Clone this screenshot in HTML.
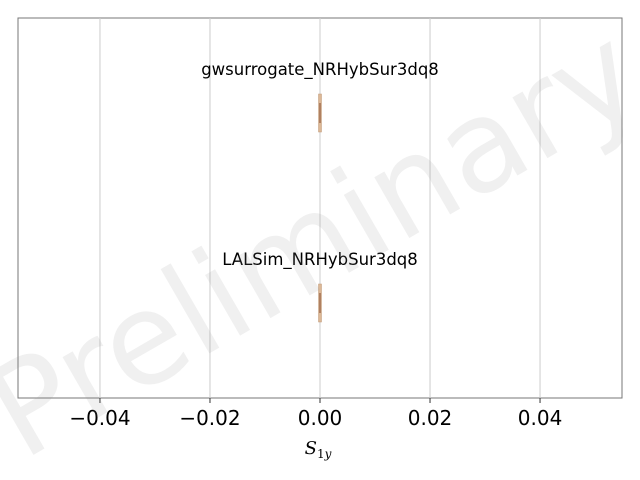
<!DOCTYPE html>
<html><head><meta charset="utf-8"><style>
body{margin:0;background:#fff;}
svg{display:block;font-family:"DejaVu Sans","Liberation Sans",sans-serif;}
</style></head><body>
<svg id="chart" width="640" height="480">
<rect x="18" y="18" width="604" height="380" fill="#fff" stroke="#777" stroke-width="1"/>
<g id="grid"></g>
<g id="marks"></g>
<g id="ticks"></g>
<text x="318" y="454" text-anchor="middle" font-family="DejaVu Serif, serif" font-style="italic" font-size="18">S<tspan font-style="normal" font-size="12" dy="4">1</tspan><tspan font-size="12">y</tspan></text>
<text transform="translate(318,250) rotate(-30)" text-anchor="middle" dominant-baseline="middle" font-size="128" fill="#888" fill-opacity="0.13">Preliminary</text>
</svg>
<script>
const ticks=[-0.04,-0.02,0.00,0.02,0.04];
const tickLabels=["\u22120.04","\u22120.02","0.00","0.02","0.04"];
const categories=["gwsurrogate_NRHybSur3dq8","LALSim_NRHybSur3dq8"];
const centers=[0,0];
const lows=[-0.0002,-0.0002];
const highs=[0.0002,0.0002];
const X0=18,X1=622,XMIN=-0.0549,XMAX=0.0549;
function xs(v){return X0+(v-XMIN)/(XMAX-XMIN)*(X1-X0);}
const rowY=[113,303];
const NS="http://www.w3.org/2000/svg";
function mk(t,a,p){const e=document.createElementNS(NS,t);for(const k in a)e.setAttribute(k,a[k]);p.appendChild(e);return e;}
const grid=document.getElementById('grid'),tk=document.getElementById('ticks'),mg=document.getElementById('marks');
ticks.forEach((v,i)=>{
 const g=mk('line',{x1:xs(v),x2:xs(v),y1:18,y2:398,stroke:'#ccc','stroke-width':1},grid);
 
 
 const l=mk('line',{x1:xs(v),x2:xs(v),y1:398,y2:403,stroke:'#333'},tk);
 
 
 const t=mk('text',{x:xs(v),y:425,'text-anchor':'middle','font-size':20},tk);
 t.textContent=tickLabels[i];
 
 
});
categories.forEach((c,i)=>{
 const y=rowY[i];
 const lab=mk('text',{x:320,y:y-38,'text-anchor':'middle','font-size':16.5},mg);
 lab.textContent=c;
 
 
 const x=xs(centers[i]);
 const w=Math.max(3,xs(highs[i])-xs(lows[i]));
 const r=mk('rect',{x:x-w/2,y:y-19,width:w,height:38,fill:'#dcb896',stroke:'#c09a78','stroke-width':0.5},mg);
 
 
 const r2=mk('rect',{x:x-1,y:y-10,width:2,height:20,fill:'#b08060'},mg);
 
 
});
</script>
</body></html>
